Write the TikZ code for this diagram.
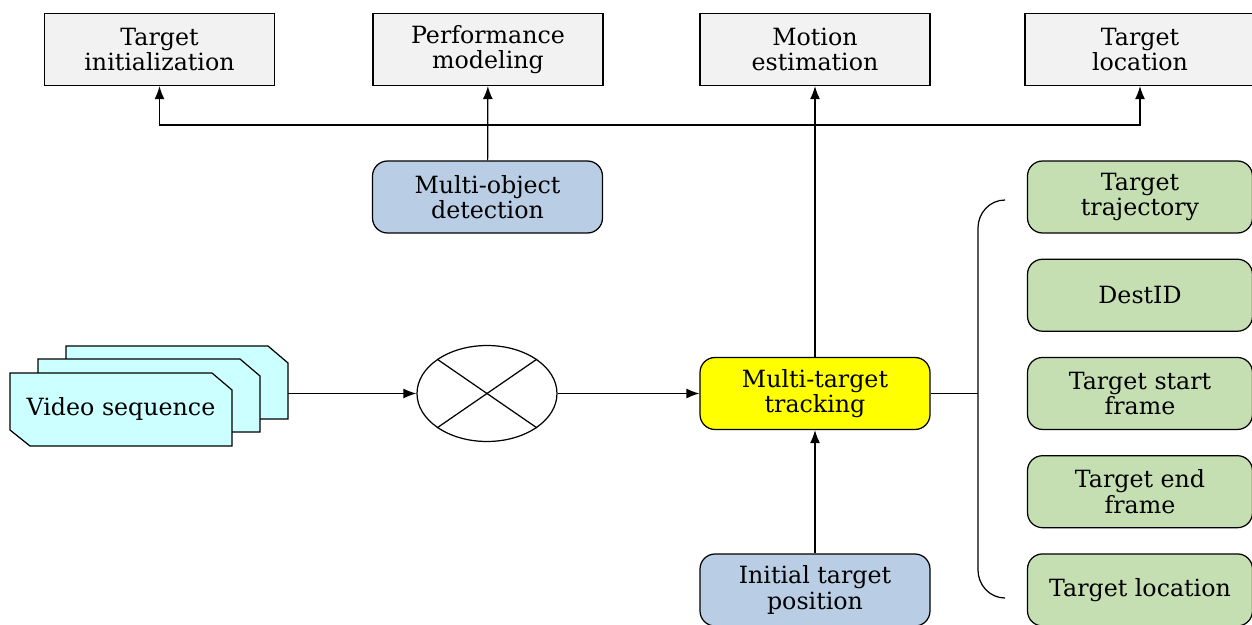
\documentclass[tikz,border=0pt]{standalone}
\usepackage{fontspec}
\setmainfont{DejaVu Serif}
\usetikzlibrary{arrows.meta,shapes.geometric}

\definecolor{boxgray}{HTML}{F2F2F2}
\definecolor{detblue}{HTML}{B9CDE5}
\definecolor{trkyellow}{HTML}{FFFF00}
\definecolor{outgreen}{HTML}{C5DFB3}
\definecolor{vidcyan}{HTML}{CCFFFF}

\tikzset{
  task/.style={draw, fill=boxgray, minimum width=4.6cm, minimum height=1.44cm,
    align=center, font=\fontsize{13.5}{14.5}\selectfont, line width=0.7pt},
  proc/.style={task, rounded corners=0.3cm},
  result/.style={proc, fill=outgreen, minimum width=4.5cm},
  arr/.style={-{Latex[length=2.6mm,width=2mm]}, line width=0.7pt},
  line/.style={line width=0.7pt}
}

\begin{document}
\begin{tikzpicture}[x=0.02cm, y=-0.02cm, node distance=1.965cm]
  \useasboundingbox (0,0) rectangle (1252,625);

  % outputs on top
  \node[task] (init) at (159.5,49.5) {Target\\initialization};
  \node[task] (perf) at (488,49.5) {Performance\\modeling};
  \node[task] (mot) at (815,49.5) {Motion\\estimation};
  \node[task] (loc) at (1140,49.5) {Target\\location};

  \node[proc, fill=detblue] (det) at (487.5,197) {Multi-object\\detection};

  % video frames, back to front
  \foreach \dx/\dy in {56/-27, 28/-14, 0/0}
    \draw[line, fill=vidcyan] (10+\dx,373+\dy) -- (212+\dx,373+\dy) -- (232+\dx,390+\dy)
      -- (232+\dx,446+\dy) -- (30+\dx,446+\dy) -- (10+\dx,430+\dy) -- cycle;
  \node[font=\fontsize{13.5}{14.5}\selectfont] (video) at (121,409) {Video sequence};
  \coordinate (vidout) at (288,393.5);

  \node[draw, ellipse, line, minimum width=2.8cm, minimum height=1.92cm] (mix) at (487,393.5) {};
  \draw[line] (mix.north west) -- (mix.south east);
  \draw[line] (mix.north east) -- (mix.south west);

  \node[proc, fill=trkyellow] (mtt) at (815,393.5) {Multi-target\\tracking};
  \node[proc, fill=detblue] (pos) at (815,590) {Initial target\\position};

  % results
  \node[result] (traj) at (1140,197) {Target\\trajectory};
  \node[result] (dest) [below of=traj] {DestID};
  \node[result] (start) [below of=dest] {Target start\\frame};
  \node[result] (end) [below of=start] {Target end\\frame};
  \node[result] (tloc) [below of=end] {Target location};

  \coordinate (bus) at (487,125);
  \coordinate (brace) at (978,393.5);

  \draw[arr] (vidout) -- (mix);
  \draw[arr] (mix) -- (mtt);
  \draw[arr] (pos) -- (mtt);
  \draw[arr] (mtt) -- (mot);
  \draw[arr] (det) -- (perf);
  \draw[arr] (bus) -| (init.south);
  \draw[arr] (bus) -| (loc.south);
  \draw[line] (mtt) -- (brace);
  \draw[line] (1005,200) to[out=180,in=90] (978,228) -- (978,570) to[out=-90,in=180] (1005,598);
\end{tikzpicture}
\end{document}
